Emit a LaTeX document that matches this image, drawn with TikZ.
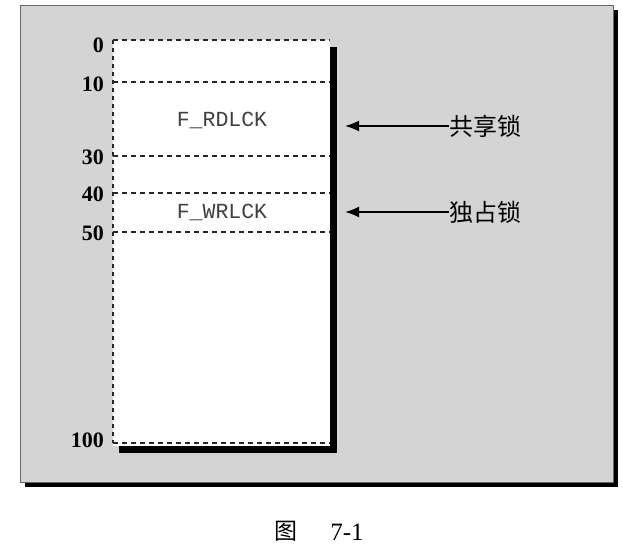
\documentclass[tikz,border=0pt]{standalone}
\usepackage{fontspec}
\setmainfont{Liberation Serif}
\setmonofont{Liberation Mono}
\newfontfamily\cjk{Noto Sans CJK SC}
\usetikzlibrary{arrows.meta}
\definecolor{panelgray}{rgb}{0.83,0.83,0.83}
\tikzset{
  sep/.style={dashed, dash pattern=on 5pt off 4pt, line width=1.1pt, black!85},
  numlab/.style={anchor=east, inner sep=0pt, font=\fontsize{22}{22}\selectfont\bfseries},
  locklab/.style={inner sep=0pt, font=\ttfamily\fontsize{21.5}{21.5}\selectfont, text=black!75},
  cjklab/.style={anchor=west, inner sep=0pt, font=\cjk\fontsize{24}{24}\selectfont},
  pointer/.style={line width=1.8pt, -{Latex[length=14pt,width=11pt]}}
}
\begin{document}
\begin{tikzpicture}[x=1pt,y=-1pt]
\useasboundingbox (0,0) rectangle (622,551);
% panel with shadow
\fill[black] (25,10) rectangle (618,487);
\fill[panelgray] (20,5) rectangle (613,482);
\draw[black!60, line width=0.8pt] (20,5) rectangle (613,482);
% inner box with shadow
\fill[black] (119,47) rectangle (337,453);
\fill[white] (113,40) rectangle (330,446);
% dashed separators
\coordinate (l0) at (113,40);
\coordinate (r0) at (330,40);
\coordinate (l10) at (113,82);
\coordinate (r10) at (330,82);
\coordinate (l30) at (113,156);
\coordinate (r30) at (330,156);
\coordinate (l40) at (113,193);
\coordinate (r40) at (330,193);
\coordinate (l50) at (113,232);
\coordinate (r50) at (330,232);
\coordinate (l100) at (113,443);
\coordinate (r100) at (330,443);
\draw[sep] (l0) -- (r0);
\draw[sep] (l10) -- (r10);
\draw[sep] (l30) -- (r30);
\draw[sep] (l40) -- (r40);
\draw[sep] (l50) -- (r50);
\draw[sep] (l100) -- (r100);
\draw[sep, dash pattern=on 4pt off 4pt] (l0) -- (l100);
% scale labels
\node[numlab] (n0) at (104,45) {0};
\node[numlab] (n10) at (104,84) {10};
\node[numlab] (n30) at (104,157) {30};
\node[numlab] (n40) at (104,194) {40};
\node[numlab] (n50) at (104,233) {50};
\node[numlab] (n100) at (104,440) {100};
% lock names
\node[locklab] (rd) at (222,120) {F\_RDLCK};
\node[locklab] (wr) at (222,212) {F\_WRLCK};
% pointers
\node[cjklab] (shared) at (449,126) {共享锁};
\node[cjklab] (excl) at (449,212) {独占锁};
\coordinate (p1) at (345,126);
\coordinate (p2) at (345,212);
\draw[pointer] (shared.west) -- (p1);
\draw[pointer] (excl.west) -- (p2);
% caption
\node[inner sep=0pt, font=\cjk\fontsize{23}{23}\selectfont] (fig) at (286,531) {图};
\node[inner sep=0pt, font=\fontsize{25}{25}\selectfont] (num) at (347,532) {7-1};
\end{tikzpicture}
\end{document}
